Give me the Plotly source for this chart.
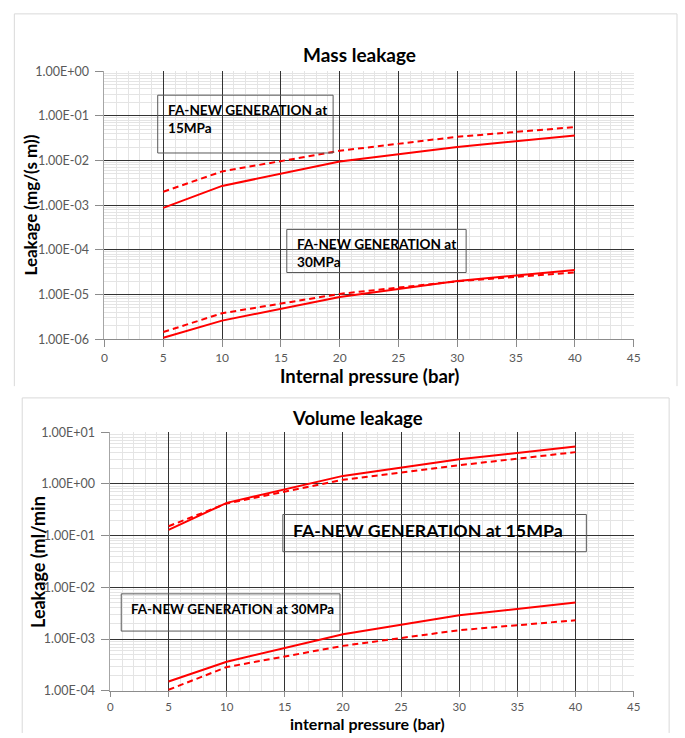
import plotly.graph_objects as go

# ---------------- data ----------------
pressure = [5, 10, 20, 30, 40]

mass_15_solid = [8.7e-4, 2.7e-3, 9.5e-3, 2.0e-2, 3.65e-2]
mass_15_dash = [2.0e-3, 5.7e-3, 1.65e-2, 3.4e-2, 5.6e-2]
mass_30_solid = [1.07e-6, 2.6e-6, 8.8e-6, 2.0e-5, 3.55e-5]
mass_30_dash = [1.44e-6, 3.8e-6, 1.03e-5, 1.97e-5, 3.1e-5]

vol_15_solid = [0.129, 0.43, 1.43, 2.99, 5.27]
vol_15_dash = [0.152, 0.42, 1.2, 2.3, 4.12]
vol_30_solid = [1.52e-4, 3.65e-4, 1.24e-3, 2.88e-3, 5.1e-3]
vol_30_dash = [1.05e-4, 2.88e-4, 7.4e-4, 1.49e-3, 2.31e-3]

x_ticks = [0, 5, 10, 15, 20, 25, 30, 35, 40, 45]
mass_tickvals = [1e-6, 1e-5, 1e-4, 1e-3, 1e-2, 1e-1, 1e0]
mass_ticktext = ["1.00E-06", "1.00E-05", "1.00E-04", "1.00E-03", "1.00E-02", "1.00E-01", "1.00E+00"]
vol_tickvals = [1e-4, 1e-3, 1e-2, 1e-1, 1e0, 1e1]
vol_ticktext = ["1.00E-04", "1.00E-03", "1.00E-02", "1.00E-01", "1.00E+00", "1.00E+01"]

title_mass = "Mass leakage"
title_vol = "Volume leakage"
ytitle_mass = "Leakage (mg/(s m))"
xtitle_mass = "Internal pressure (bar)"
ytitle_vol = "Leakage (ml/min"
xtitle_vol = "internal pressure (bar)"
label_mass_15 = "FA-NEW GENERATION at<br>15MPa"
label_mass_30 = "FA-NEW GENERATION at<br>30MPa"
label_vol_15 = "FA-NEW GENERATION at 15MPa"
label_vol_30 = "FA-NEW GENERATION at 30MPa"

# ---------------- layout helpers ----------------
W, H = 685, 738
FONT = "Lato"
RED = "#ff0000"


def px(x):
    return x / W


def py(y):
    return 1 - y / H


fig = go.Figure()

series = [
    (mass_15_solid, "solid", "x", "y"),
    (mass_15_dash, "6px,4px", "x", "y"),
    (mass_30_solid, "solid", "x", "y"),
    (mass_30_dash, "6px,4px", "x", "y"),
    (vol_15_solid, "solid", "x2", "y2"),
    (vol_15_dash, "6px,4px", "x2", "y2"),
    (vol_30_solid, "solid", "x2", "y2"),
    (vol_30_dash, "6px,4px", "x2", "y2"),
]
for vals, dash, xa, ya in series:
    fig.add_trace(go.Scatter(x=pressure, y=vals, mode="lines",
                             line=dict(color=RED, width=2, dash=dash),
                             xaxis=xa, yaxis=ya, showlegend=False,
                             hoverinfo="skip"))

xcommon = dict(range=[0, 45], tickmode="array", tickvals=x_ticks,
               showgrid=True, gridcolor="#333333", gridwidth=1,
               zeroline=False, showline=True, linecolor="#8c8c8c",
               ticks="outside", tickcolor="#8c8c8c",
               minor=dict(dtick=1, showgrid=True, gridcolor="#e4e4e4",
                          gridwidth=1, ticks=""))
ycommon = dict(type="log", showgrid=True, gridcolor="#333333", gridwidth=1,
               zeroline=False, showline=True, linecolor="#a6a6a6",
               ticks="outside", ticklen=8, tickcolor="#8c8c8c",
               ticklabelstandoff=4,
               tickfont=dict(family=FONT, size=12.5, color="#595959"),
               minor=dict(dtick="D1", showgrid=True, gridcolor="#e4e4e4",
                          gridwidth=1, ticks=""))

fig.update_layout(
    width=W, height=H,
    margin=dict(l=0, r=0, t=0, b=0),
    paper_bgcolor="white", plot_bgcolor="white",
    font=dict(family=FONT, color="black"),
    xaxis=dict(domain=[px(103), px(640)], anchor="y", ticklen=7,
               tickfont=dict(family=FONT, size=12, color="#595959"), **xcommon),
    yaxis=dict(domain=[py(338), py(64.5)], anchor="x", range=[-6, 0],
               tickmode="array", tickvals=mass_tickvals, ticktext=mass_ticktext,
               **ycommon),
    xaxis2=dict(domain=[px(109), px(640)], anchor="y2", ticklen=5,
                tickfont=dict(family=FONT, size=11.5, color="#595959"), **xcommon),
    yaxis2=dict(domain=[py(697), py(433)], anchor="x2", range=[-4, 1],
                tickmode="array", tickvals=vol_tickvals, ticktext=vol_ticktext,
                **ycommon),
)

shapes = []
# chart container borders
shapes.append(dict(type="path", xref="paper", yref="paper",
                   path=f"M {px(11.5)} {py(386)} L {px(11.5)} {py(6)} L {px(684)} {py(6)} L {px(684)} {py(386)}",
                   line=dict(color="#d9d9d9", width=1)))
shapes.append(dict(type="path", xref="paper", yref="paper",
                   path=f"M {px(19.5)} {py(740)} L {px(19.5)} {py(398)} L {px(676)} {py(398)} L {px(676)} {py(740)}",
                   line=dict(color="#d9d9d9", width=1)))
# label boxes
boxes = [(157, 89, 335, 148), (288, 226, 470, 270),
         (284, 517, 592, 555), (120, 598, 342, 636)]
for x0, y0, x1, y1 in boxes:
    shapes.append(dict(type="rect", xref="paper", yref="paper",
                       x0=px(x0), x1=px(x1), y0=py(y1), y1=py(y0),
                       line=dict(color="#595959", width=1),
                       fillcolor="rgba(0,0,0,0)"))
fig.update_layout(shapes=shapes)

ann = []


def add_text(text, x, y, size, xanchor="center", align="center", textangle=0):
    ann.append(dict(text=f"<b>{text}</b>", xref="paper", yref="paper",
                    x=px(x), y=py(y), xanchor=xanchor, yanchor="middle",
                    align=align, showarrow=False, textangle=textangle,
                    font=dict(family=FONT, size=size, color="black")))


add_text(title_mass, 362, 47, 19)
add_text(title_vol, 360, 419, 18.5)
add_text(ytitle_mass, 28, 201, 17, textangle=-90)
add_text(xtitle_mass, 372, 375.5, 18.5)
add_text(ytitle_vol, 35, 565, 18, textangle=-90)
add_text(xtitle_vol, 370, 730, 16)
add_text(label_mass_15, 165, 113, 13.6, xanchor="left", align="left")
add_text(label_mass_30, 296, 250, 13.6, xanchor="left", align="left")
add_text(label_vol_15, 292, 533, 17.8, xanchor="left", align="left")
add_text(label_vol_30, 128, 613, 13.4, xanchor="left", align="left")
fig.update_layout(annotations=ann)

fig.write_html("out.html", config={"displayModeBar": False},
               post_script="document.body.style.margin='0';document.body.style.overflow='hidden';")
